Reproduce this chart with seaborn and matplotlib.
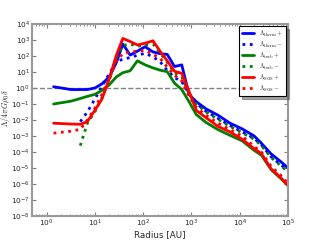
import numpy as np
import pandas as pd
import matplotlib
matplotlib.use("Agg")
import matplotlib.pyplot as plt
import seaborn as sns

radius = [1.4, 3.2, 5.0, 7.0, 10, 14, 20, 28, 38, 54, 76, 110, 160, 224, 316, 447,
          631, 891, 1259, 2000, 3548, 6310, 11220, 19950, 28180, 44670, 70800, 1e5]

therm_plus = [1.2, 0.8, 0.8, 0.8, 1.0, 1.8, 5.0, 40, 560, 115, 200, 380, 180, 140, 126, 22,
              28, 0.4, 0.14, 0.05, 0.02, 6.3e-3, 2.8e-3, 1.0e-3, 3.5e-4, 7.6e-5, 2.5e-5, 1.0e-5]
therm_minus = [np.nan, np.nan, 7.9e-3, 0.032, 0.2, 1.26, 8, 44, 63, 80, 112, 148, 89, 44, 12.6, 4.5,
               2.5, 0.45, 0.11, 0.035, 0.0126, 4.5e-3, 1.8e-3, 7.1e-4, 2.8e-4, 5.0e-5, 1.6e-5, 7.1e-6]
turb_plus = [0.1, 0.15, 0.22, 0.3, 0.4, 0.7, 1.6, 5, 9, 12, 50, 28, 18, 13, 10.5, 2.0,
             0.8, 0.14, 0.022, 7.1e-3, 2.5e-3, 1.1e-3, 5.0e-4, 1.26e-4, 6.3e-5, 7.9e-6, 2.2e-6, 7.9e-7]
turb_minus = [np.nan, np.nan, 2.5e-4, 6.3e-3, 0.032, 0.25, 3.2, 80, 450, 560, 400, 500, 560, 160, 40, 9,
              5, 0.45, 0.1, 0.032, 0.011, 4.0e-3, 1.6e-3, 6.3e-4, 2.5e-4, 4.5e-5, 1.4e-5, 5.6e-6]
sgs_plus = [6.3e-3, 5.6e-3, 5.4e-3, 7.9e-3, 0.04, 0.2, 4, 115, 1260, 800, 490, 630, 890, 200, 50, 11,
            8.3, 0.63, 0.04, 0.014, 4.0e-3, 1.8e-3, 6.3e-4, 1.6e-4, 7.9e-5, 8.9e-6, 2.5e-6, 7.9e-7]
sgs_minus = [1.5e-3, 2.0e-3, 2.6e-3, 0.01, 0.054, 0.4, 4, 50, 140, 180, 200, 224, 126, 72, 20, 6.3,
             2.8, 0.32, 0.063, 0.02, 6.3e-3, 2.5e-3, 1.0e-3, 2.2e-4, 1.0e-4, 1.26e-5, 3.5e-6, 1.1e-6]

series = [
    (therm_plus, r"$\Lambda_{\rm therm}+$", "#0000ff", "-"),
    (therm_minus, r"$\Lambda_{\rm therm}-$", "#0000ff", ":"),
    (turb_plus, r"$\Lambda_{\rm turb}+$", "#008000", "-"),
    (turb_minus, r"$\Lambda_{\rm turb}-$", "#008000", ":"),
    (sgs_plus, r"$\Lambda_{\rm SGS}+$", "#ff0000", "-"),
    (sgs_minus, r"$\Lambda_{\rm SGS}-$", "#ff0000", ":"),
]

sns.set_style("ticks")
plt.rcParams['font.family'] = ['DejaVu Sans']
plt.rcParams['mathtext.fontset'] = 'cm'

fig = plt.figure(figsize=(3.2, 2.4), dpi=100)
ax = fig.add_axes([0.1, 0.1, 0.8, 0.8])

for vals, lab, col, ls in series:
    df = pd.DataFrame({"r": radius, "v": vals}).dropna()
    sns.lineplot(data=df, x="r", y="v", ax=ax, color=col, linestyle=ls,
                 linewidth=2, label=lab, sort=False)

ax.axhline(1.0, color="gray", linestyle="--", linewidth=1, zorder=0)
ax.set_xscale("log")
ax.set_yscale("log")
ax.set_xlim(0.5, 1e5)
ax.set_ylim(1e-8, 1e4)
ax.set_yticks([10.0**k for k in range(-8, 5)])
ax.set_xticks([10.0**k for k in range(0, 6)])
ax.tick_params(which="both", direction="in", top=True, right=True, labelsize=5.3,
               color="gray", pad=1.5)
ax.tick_params(which="major", length=3)
ax.tick_params(which="minor", length=1.5)
ax.yaxis.set_minor_locator(matplotlib.ticker.NullLocator())
for s in ax.spines.values():
    s.set_color("#999999")
    s.set_linewidth(1.5)
ax.set_xlabel("Radius [AU]", fontsize=6.3)
ax.xaxis.set_label_coords(0.5, -0.075)
ax.set_ylabel(r"$\Lambda/4\pi G\rho_0\delta$", fontsize=5.8)
ax.yaxis.set_label_coords(-0.078, 0.56)

leg = ax.legend(loc="upper right", fontsize=4.6, frameon=True, fancybox=False,
                shadow=True, handlelength=1.9, borderpad=0.4, labelspacing=0.15,
                handletextpad=0.8, borderaxespad=0.3)
leg.get_frame().set_edgecolor("black")
leg.get_frame().set_linewidth(0.8)

fig.savefig("out.png", dpi=100)
